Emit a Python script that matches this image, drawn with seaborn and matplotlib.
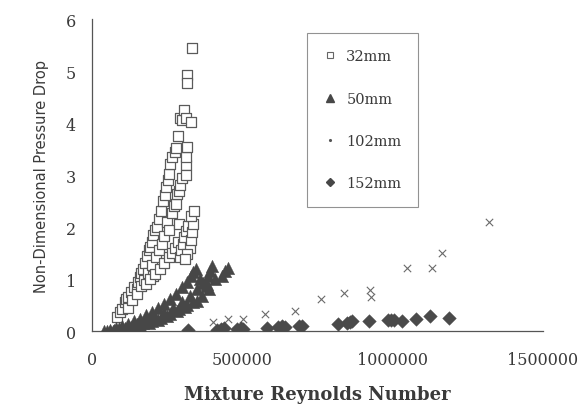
import matplotlib
matplotlib.use('Agg')
import matplotlib.pyplot as plt
import seaborn as sns
from matplotlib.lines import Line2D

# 32mm pipe - open squares
re_32 = [85e3, 95e3, 100e3, 110e3, 113e3, 120e3, 130e3, 140e3, 149e3, 152e3,
         160e3, 165e3, 171e3, 178e3, 182e3, 190e3, 195e3, 199e3, 205e3, 210e3,
         216e3, 222e3, 229e3, 236e3, 242e3, 247e3, 252e3, 258e3, 260e3, 266e3,
         275e3, 280e3, 286e3, 293e3, 300e3, 308e3, 313e3, 318e3, 318e3, 330e3,
         332e3,
         120e3, 135e3, 150e3, 163e3, 175e3, 188e3, 200e3, 203e3, 212e3, 222e3,
         232e3, 240e3, 251e3, 258e3, 266e3, 272e3, 280e3, 282e3, 290e3, 293e3,
         300e3, 313e3, 313e3, 316e3, 312e3,
         180e3, 195e3, 210e3, 225e3, 240e3, 255e3, 265e3, 275e3, 285e3, 291e3,
         293e3, 298e3, 303e3, 308e3, 313e3, 320e3, 325e3, 330e3, 333e3, 336e3,
         330e3, 340e3, 318e3, 310e3]
dp_32 = [0.28, 0.37, 0.42, 0.55, 0.61, 0.66, 0.75, 0.85, 0.81, 0.95,
         1.04, 1.12, 1.19, 1.30, 1.45, 1.55, 1.62, 1.71, 1.85, 1.95,
         2.00, 2.15, 2.31, 2.51, 2.62, 2.78, 2.90, 3.02, 3.21, 3.35,
         3.45, 3.52, 3.76, 4.10, 4.05, 4.25, 4.10, 4.92, 4.78, 4.02,
         5.44,
         0.45, 0.60, 0.72, 0.86, 0.98, 1.12, 1.28, 1.06, 1.42, 1.56,
         1.68, 1.82, 2.09, 1.95, 2.27, 2.40, 2.44, 2.63, 2.70, 2.81,
         2.95, 3.19, 3.35, 3.54, 3.00,
         0.90, 1.00, 1.10, 1.20, 1.30, 1.42, 1.50, 1.60, 1.72, 2.06,
         1.42, 1.55, 1.68, 1.80, 1.92, 2.02, 1.60, 1.75, 1.90, 2.05,
         2.21, 2.30, 1.48, 1.38]

# 50mm pipe - filled triangles
re_50 = [40e3, 60e3, 80e3, 100e3, 120e3, 140e3, 160e3, 180e3, 200e3, 220e3,
         240e3, 260e3, 280e3, 300e3, 316e3, 330e3, 338e3, 345e3,
         60e3, 90e3, 120e3, 150e3, 180e3, 210e3, 240e3, 270e3, 300e3, 325e3,
         349e3, 360e3, 370e3, 382e3, 385e3, 393e3, 399e3,
         70e3, 100e3, 130e3, 160e3, 190e3, 220e3, 250e3, 282e3, 310e3, 335e3,
         349e3, 365e3, 382e3, 388e3, 410e3, 432e3, 443e3, 454e3,
         50e3, 75e3, 110e3, 140e3, 170e3, 200e3, 230e3, 260e3, 290e3, 316e3]
dp_50 = [0.00, 0.03, 0.06, 0.10, 0.14, 0.19, 0.24, 0.30, 0.37, 0.45,
         0.53, 0.62, 0.72, 0.84, 0.95, 1.05, 1.13, 1.20,
         0.01, 0.05, 0.09, 0.14, 0.20, 0.27, 0.35, 0.45, 0.56, 0.68,
         0.80, 1.00, 0.92, 0.87, 1.05, 1.15, 1.26,
         0.00, 0.03, 0.07, 0.11, 0.16, 0.22, 0.29, 0.38, 0.47, 0.55,
         0.58, 0.68, 0.90, 0.81, 1.00, 1.06, 1.16, 1.22,
         0.00, 0.02, 0.06, 0.10, 0.15, 0.20, 0.26, 0.33, 0.42, 0.50]

# 102mm pipe - crosses
re_102 = [404e3, 454e3, 504e3, 577e3, 674e3, 762e3, 840e3, 924e3, 930e3,
          1047e3, 1132e3, 1166e3, 1321e3]
dp_102 = [0.18, 0.23, 0.23, 0.33, 0.39, 0.61, 0.73, 0.79, 0.66,
          1.22, 1.22, 1.50, 2.09]

# 152mm pipe - filled diamonds
re_152 = [320e3, 415e3, 430e3, 440e3, 482e3, 495e3, 504e3, 582e3, 620e3, 632e3,
          643e3, 688e3, 699e3, 818e3, 849e3, 860e3, 866e3, 921e3, 984e3, 995e3,
          1004e3, 1032e3, 1077e3, 1123e3, 1188e3]
dp_152 = [0.02, 0.02, 0.04, 0.05, 0.04, 0.05, 0.04, 0.06, 0.08, 0.09,
          0.08, 0.10, 0.10, 0.13, 0.16, 0.18, 0.20, 0.20, 0.22, 0.21,
          0.22, 0.20, 0.23, 0.29, 0.26]

x_ticks = [0, 500000, 1000000, 1500000]
y_ticks = [0, 1, 2, 3, 4, 5, 6]
labels = ["32mm", "50mm", "102mm", "152mm"]

sns.set_style("white")
plt.rcParams['font.family'] = ['DejaVu Serif']
ink = '#3a3a3a'

fig = plt.figure(figsize=(5.85, 4.1), dpi=100)
ax = fig.add_axes([0.157, 0.19, 0.771, 0.761])

sns.scatterplot(x=re_32, y=dp_32, ax=ax, marker='s', s=62, facecolor='white',
                edgecolor='#5a5a5a', linewidth=0.9, zorder=3)
sns.scatterplot(x=re_50, y=dp_50, ax=ax, marker='^', s=80, color='#474747',
                edgecolor='#474747', linewidth=0.3, zorder=4)
sns.scatterplot(x=re_102, y=dp_102, ax=ax, marker='x', s=28, color='#6a6a6a',
                linewidth=0.8, zorder=4)
sns.scatterplot(x=re_152, y=dp_152, ax=ax, marker='D', s=48, color='#4a4a4a',
                edgecolor='#4a4a4a', linewidth=0.3, zorder=4)

ax.set_xlim(0, 1500000)
ax.set_ylim(0, 6)
ax.set_xticks(x_ticks)
ax.set_xticklabels([str(v) for v in x_ticks])
ax.set_yticks(y_ticks)
sns.despine(ax=ax)
for side in ['left', 'bottom']:
    ax.spines[side].set_color('#555555')
    ax.spines[side].set_linewidth(0.9)
ax.tick_params(axis='both', direction='inout', length=7, width=0.8,
               color='#555555', labelsize=11.5, labelcolor=ink)
ax.tick_params(axis='y', pad=8)
ax.tick_params(axis='x', pad=11)

ax.set_xlabel("Mixture Reynolds Number", fontsize=13, fontweight='bold',
              color=ink, labelpad=12)
ax.set_ylabel("Non-Dimensional Pressure Drop", fontsize=10.5, color=ink,
              family=['Liberation Sans Narrow', 'DejaVu Sans'], labelpad=12)

handles = [
    Line2D([], [], ls='none', marker='s', ms=4, mfc='white', mec='#666666', mew=0.8),
    Line2D([], [], ls='none', marker='^', ms=6, color='#474747'),
    Line2D([], [], ls='none', marker='.', ms=2.5, color='#555555'),
    Line2D([], [], ls='none', marker='D', ms=4.5, color='#474747'),
]
leg = ax.legend(handles, labels, loc='upper left', bbox_to_anchor=(0.477, 0.955),
                frameon=True, fancybox=False, fontsize=10.5, labelspacing=1.95,
                handlelength=1.0, handletextpad=0.6, borderpad=1.1,
                borderaxespad=0)
leg.get_frame().set_edgecolor('#777777')
leg.get_frame().set_linewidth(0.8)
for t in leg.get_texts():
    t.set_color(ink)

fig.savefig("out.png", dpi=100)
